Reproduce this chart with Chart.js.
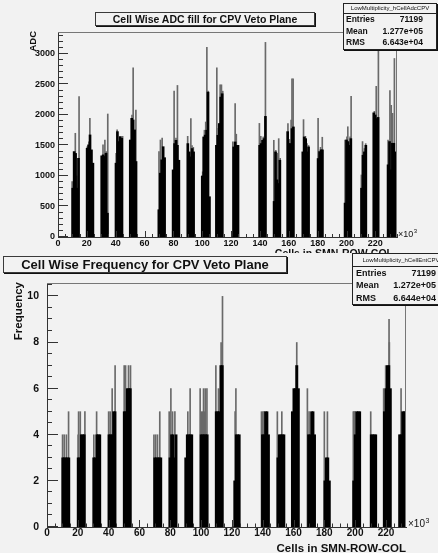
<!DOCTYPE html>
<html>
<head>
<meta charset="utf-8">
<script src="https://cdn.jsdelivr.net/npm/chart.js@4.4.1/dist/chart.umd.min.js"></script>
<style>
  html, body { margin: 0; padding: 0; background: #f2f2f2; }
  #page { position: relative; width: 438px; height: 553px; background: #f2f2f2; overflow: hidden; }
  canvas { position: absolute; left: 0; top: 0; }
  #lower { position: absolute; left: 0; top: 253px; width: 438px; height: 300px; background: #f2f2f2; }
  .tbox {
    position: absolute; box-sizing: border-box; background: #f2f2f2;
    border: 1px solid #3a3a3a; box-shadow: 1px 1px 0 #111;
    font-family: "Liberation Sans", Arial, sans-serif; font-weight: bold; color: #111;
    text-align: center; white-space: nowrap;
  }
  .stats {
    position: absolute; box-sizing: border-box; background: #f2f2f2;
    border: 1px solid #222; box-shadow: 1px 1px 0 #111;
    font-family: "Liberation Sans", Arial, sans-serif; font-weight: bold; color: #111;
    white-space: nowrap;
  }
  .stats .sh { box-sizing: border-box; border-bottom: 1px solid #222; text-align: center; font-weight: normal; }
  .stats .row { display: flex; justify-content: space-between; }
</style>
</head>
<body>
<div id="page">
  <canvas id="adc" width="438" height="253"></canvas>
  <div class="tbox" style="left:95px;top:12px;width:220px;height:14px;font-size:10.5px;line-height:12px;">Cell Wise ADC fill for CPV Veto Plane</div>
  <div class="stats" style="left:343px;top:3px;width:94px;height:47px;font-size:8.5px;">
    <div class="sh" style="height:10px;line-height:9px;font-size:6px;">LowMultiplicity_hCellAdcCPV</div>
    <div class="row" style="height:11.7px;line-height:11.7px;padding:0 13px 0 2px;"><span>Entries</span><span>71199</span></div>
    <div class="row" style="height:11.7px;line-height:11.7px;padding:0 13px 0 2px;"><span>Mean</span><span>1.277e+05</span></div>
    <div class="row" style="height:11.7px;line-height:11.7px;padding:0 13px 0 2px;"><span>RMS</span><span>6.643e+04</span></div>
  </div>

  <div id="lower">
    <canvas id="freq" width="438" height="300"></canvas>
    <div class="tbox" style="left:3px;top:3px;width:284px;height:17px;font-size:13px;line-height:15px;">Cell Wise Frequency for CPV Veto Plane</div>
    <div class="stats" style="left:352px;top:0px;width:98px;height:52px;font-size:9px;">
      <div class="sh" style="height:13px;line-height:12px;font-size:6px;">LowMultiplicity_hCellEntCPV</div>
      <div class="row" style="height:12.3px;line-height:12.3px;padding:0 13px 0 3px;"><span>Entries</span><span>71199</span></div>
      <div class="row" style="height:12.3px;line-height:12.3px;padding:0 13px 0 3px;"><span>Mean</span><span>1.272e+05</span></div>
      <div class="row" style="height:12.3px;line-height:12.3px;padding:0 13px 0 3px;"><span>RMS</span><span>6.644e+04</span></div>
    </div>
  </div>
</div>

<script>
// Cell index axis is in units of 10^3 (SMN-ROW-COL). Each readout group is a run of
// 1k-wide bins starting at the group's first cell.
const clusterStartK = [9.7, 19.7, 29.8, 39.7, 49.6, 69.4, 79.3, 89.5, 99.5, 109.3,
                       120.3, 139.3, 149.3, 158.7, 169.2, 179.8, 198.5, 209.9, 218.4, 228.3];

// Axis tick labels
const cellTicks = [0, 20, 40, 60, 80, 100, 120, 140, 160, 180, 200, 220];
const adcTicks = [0, 500, 1000, 1500, 2000, 2500, 3000];
const freqTicks = [0, 2, 4, 6, 8, 10];

// Summed ADC per bin (solid part of each group)
const adcBody = [
  [800, 1400, 1370, 800, 1290],
  [1455, 1510, 1673, 1428, 1210],
  [1330, 1346, 1320, 1373, 390],
  [1210, 1727, 1564, 1646, 1619],
  [1590, 1945, 1918, 1755, 1237],
  [447, 1046, 1264, 1480, 1300],
  [1100, 1531, 1585, 1503, 1258],
  [1531, 1395, 1313, 1450, 1395],
  [1000, 1640, 1670, 1750, 2375, 660],
  [1503, 1667, 1860, 2293, 2348],
  [0, 1476, 1558, 1503, 1503],
  [1503, 1531, 1585, 1612, 1977],
  [583, 1395, 937, 877, 1258],
  [1727, 1531, 1531, 1776, 1804],
  [1395, 1640, 1612, 1395, 1476],
  [1286, 1400, 1428, 1428],
  [556, 1590, 1564, 1503, 1612],
  [800, 1340, 1395, 1503],
  [2035, 2000, 1940, 1960],
  [1183, 1564, 1100, 1536, 1536, 1395]
];

// Single hot cells standing above the groups: [cell (x10^3), ADC]
const adcPeaks = [
  [9.8, 910], [12.0, 1700], [12.9, 1000], [14.6, 2300],
  [20.3, 1480], [21.4, 1560], [22.1, 1945],
  [31.2, 1510], [32.5, 1590], [33.4, 1400], [34.5, 2016],
  [40.3, 1370], [41.0, 1755], [44.8, 1650],
  [51.3, 2000], [52.1, 2774], [54.0, 2080],
  [70.0, 1400], [71.0, 1590], [72.2, 1620],
  [80.5, 2390], [81.8, 1620], [82.8, 2484],
  [89.9, 1650], [92.1, 1940], [92.9, 1500], [93.8, 1470],
  [100.3, 1068], [101.5, 1750], [102.4, 1885], [103.2, 3110], [104.0, 2390],
  [110.1, 2773], [111.0, 1780], [112.4, 2495], [113.3, 2495], [114.2, 2390],
  [121.2, 1560], [122.8, 2185], [123.6, 1685],
  [139.6, 1862], [140.6, 1650], [142.3, 1640], [143.8, 3190],
  [149.6, 1585], [151.0, 1420], [152.2, 1373], [153.0, 1612], [154.0, 1290],
  [159.4, 1860], [160.6, 1600], [161.6, 1918], [162.2, 2593], [163.0, 2593],
  [170.2, 1924], [171.5, 1650], [172.6, 1531], [173.7, 1500],
  [180.3, 1945], [182.0, 1470], [183.2, 1635],
  [199.0, 1590], [200.3, 1640], [200.9, 1807], [202.5, 1640], [203.2, 2305],
  [210.3, 1017], [211.1, 1564], [212.4, 1450], [213.3, 1530],
  [219.3, 2060], [220.6, 2470], [222.1, 3400],
  [228.8, 1590], [230.1, 2400], [231.0, 2158], [231.9, 2027], [233.2, 2926]
];

// Hit counts per bin (solid part of each group)
const freqBody = [
  [3, 3, 3, 3, 3],
  [3, 3, 4, 4, 4],
  [3, 3, 4, 4, 4],
  [4, 4, 4, 5, 5],
  [5, 5, 6, 6, 6],
  [3, 3, 3, 3, 3],
  [3, 4, 4, 3, 4],
  [3, 4, 4, 4, 4],
  [4, 4, 4, 4, 4],
  [5, 5, 5, 7, 7],
  [0, 2, 4, 4, 4],
  [4, 4, 5, 5, 4],
  [3, 4, 4, 4, 4],
  [5, 6, 6, 7, 6],
  [4, 4, 5, 5, 4],
  [2, 3, 3, 2],
  [2, 4, 5, 5, 5],
  [4, 4, 4, 4],
  [5, 6, 7, 7, 6],
  [4, 4, 5, 5, 5]
];

// Single cells with more hits than their group: [cell (x10^3), hits]
const freqPeaks = [
  [10.1, 4], [11.2, 4], [12.6, 4], [14.0, 5],
  [20.2, 4], [20.5, 5], [21.6, 5], [24.6, 5],
  [30.4, 4], [32.2, 5],
  [40.0, 5], [41.0, 5], [42.3, 6], [44.2, 7],
  [50.1, 7], [51.0, 7], [52.9, 7], [54.2, 7],
  [69.4, 4], [70.5, 4], [71.7, 4], [73.2, 5],
  [79.3, 5], [80.4, 6], [81.5, 5], [83.0, 5],
  [91.4, 5], [92.9, 6],
  [99.4, 6], [100.2, 5], [101.0, 5], [101.6, 6], [102.2, 5], [102.7, 6], [103.8, 6],
  [109.6, 7], [111.3, 6], [113.0, 8], [113.9, 10],
  [122.1, 5], [122.6, 6],
  [139.2, 5], [140.0, 5], [140.8, 5],
  [149.5, 5], [152.4, 5],
  [161.5, 7], [162.1, 8],
  [169.0, 6], [170.1, 5],
  [180.0, 5], [182.0, 5],
  [198.8, 5], [199.3, 5], [199.9, 5],
  [210.1, 5],
  [218.5, 6], [219.8, 7], [222.0, 9], [222.2, 8],
  [229.8, 6]
];

const FONT = '"Liberation Sans", Arial, sans-serif';
Chart.defaults.font.family = FONT;
Chart.defaults.color = '#111';

function groupBins(body) {
  const pts = [];
  clusterStartK.forEach((s, c) => {
    (body[c] || []).forEach((v, i) => pts.push({ x: s + 0.5 + i, y: v }));
  });
  return pts;
}
function peakBins(list) {
  return list.map(([k, v]) => ({ x: k, y: v }));
}

// Frame, inward tick marks and axis titles in the style of a ROOT pad
const rootFrame = {
  id: 'rootFrame',
  afterDatasetsDraw(chart, args, o) {
    const { ctx, chartArea: a, scales: { x, y } } = chart;
    ctx.save();
    ctx.lineWidth = 1;
    ctx.strokeStyle = '#777';
    ctx.beginPath();
    ctx.moveTo(a.left, a.top + 0.5); ctx.lineTo(a.right - 0.5, a.top + 0.5); ctx.lineTo(a.right - 0.5, a.bottom);
    ctx.stroke();

    ctx.strokeStyle = '#333';
    ctx.beginPath();
    const nx = Math.floor(x.max / o.xMinor + 1e-9);
    const xr = Math.round(o.xMajor / o.xMinor);
    for (let i = 0; i <= nx; i++) {
      const px = Math.round(x.getPixelForValue(i * o.xMinor)) + 0.5;
      const len = (i % xr === 0) ? o.xMajorLen : o.xMinorLen;
      ctx.moveTo(px, a.bottom); ctx.lineTo(px, a.bottom - len);
    }
    const ny = Math.floor(y.max / o.yMinor + 1e-9);
    const yr = Math.round(o.yMajor / o.yMinor);
    for (let i = 0; i <= ny; i++) {
      const py = Math.round(y.getPixelForValue(i * o.yMinor)) - 0.5;
      const len = (i % yr === 0) ? o.yMajorLen : o.yMinorLen;
      ctx.moveTo(a.left, py); ctx.lineTo(a.left + len, py);
    }
    ctx.stroke();

    ctx.fillStyle = '#111';
    // x axis title, right aligned at the frame edge
    ctx.font = `bold ${o.xTitleSize}px ${FONT}`;
    ctx.textAlign = 'right';
    ctx.textBaseline = 'alphabetic';
    ctx.fillText(o.xTitle, a.right + o.xTitleShift, o.xTitleBase);
    // y axis title, rotated, ending at the top of the frame
    ctx.save();
    ctx.translate(o.yTitleX, a.top - 1);
    ctx.rotate(-Math.PI / 2);
    ctx.font = `bold ${o.yTitleSize}px ${FONT}`;
    ctx.textAlign = 'right';
    ctx.fillText(o.yTitle, 0, 0);
    ctx.restore();
    // axis multiplier
    ctx.textAlign = 'left';
    ctx.font = `${o.expSize}px ${FONT}`;
    const mx = a.right + o.expShift;
    ctx.fillText('\u00d710', mx, a.bottom + o.expBase);
    const w = ctx.measureText('\u00d710').width;
    ctx.font = `${Math.round(o.expSize * 0.7)}px ${FONT}`;
    ctx.fillText('3', mx + w + 0.5, a.bottom + o.expBase - o.expSize * 0.4);
    ctx.restore();
  }
};

function histConfig(body, peaks, yTicks, opt) {
  return {
    type: 'bar',
    data: {
      datasets: [
        { label: 'peaks', data: peakBins(peaks), backgroundColor: '#6a6a6a',
          barThickness: 1, grouped: false, order: 1 },
        { label: 'groups', data: groupBins(body), backgroundColor: '#000000',
          barThickness: 2, grouped: false, order: 0 }
      ]
    },
    options: {
      responsive: false,
      animation: false,
      devicePixelRatio: 1,
      layout: { padding: { top: opt.top, right: opt.right, left: 0, bottom: 0 } },
      plugins: { legend: { display: false }, tooltip: { enabled: false }, rootFrame: opt.frame },
      scales: {
        x: {
          type: 'linear', min: 0, max: opt.xMax, offset: false,
          grid: { display: false, drawTicks: false },
          border: { color: '#333', width: 1 },
          ticks: { autoSkip: false, maxRotation: 0,
                   padding: opt.xPad, font: { size: opt.xFont, weight: 'bold' }, color: '#111',
                   callback: v => String(v) },
          afterBuildTicks(s) { s.ticks = cellTicks.map(v => ({ value: v })); },
          afterFit(s) { s.height = opt.xHeight; }
        },
        y: {
          type: 'linear', min: 0, max: opt.yMax, stacked: false,
          grid: { display: false, drawTicks: false },
          border: { color: '#333', width: 1 },
          ticks: { padding: opt.yPad, font: { size: opt.yFont, weight: 'bold' }, color: '#111',
                   callback: v => String(v) },
          afterBuildTicks(s) { s.ticks = yTicks.map(v => ({ value: v })); },
          afterFit(s) { s.width = opt.yWidth; }
        }
      }
    },
    plugins: [rootFrame]
  };
}

new Chart(document.getElementById('adc'), histConfig(adcBody, adcPeaks, adcTicks, {
  top: 32, right: 41, xMax: 235, yMax: 3360,
  xHeight: 16, yWidth: 58, xPad: 1, yPad: 3, xFont: 9, yFont: 9,
  frame: {
    xMinor: 5, xMajor: 20, xMajorLen: 6, xMinorLen: 3,
    yMinor: 100, yMajor: 500, yMajorLen: 10, yMinorLen: 5,
    xTitle: 'Cells in SMN-ROW-COL', xTitleSize: 10.5, xTitleShift: -4, xTitleBase: 257,
    yTitle: 'ADC', yTitleSize: 9.5, yTitleX: 36,
    expSize: 9, expShift: 1, expBase: -0.5
  }
}));

new Chart(document.getElementById('freq'), histConfig(freqBody, freqPeaks, freqTicks, {
  top: 30, right: 32, xMax: 233, yMax: 10.58,
  xHeight: 26, yWidth: 47, xPad: 0, yPad: 8, xFont: 10, yFont: 10.5,
  frame: {
    xMinor: 5, xMajor: 20, xMajorLen: 7, xMinorLen: 3.5,
    yMinor: 0.5, yMajor: 2, yMajorLen: 11, yMinorLen: 5,
    xTitle: 'Cells in SMN-ROW-COL', xTitleSize: 11.5, xTitleShift: 0, xTitleBase: 299,
    yTitle: 'Frequency', yTitleSize: 11.5, yTitleX: 22,
    expSize: 10, expShift: 2, expBase: -0.5
  }
}));
</script>
</body>
</html>
